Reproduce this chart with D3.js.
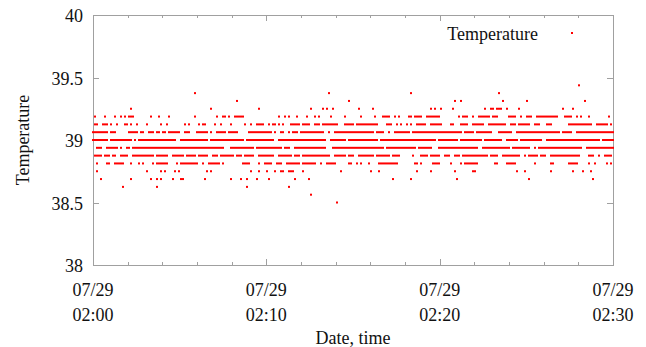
<!DOCTYPE html>
<html>
<head>
<meta charset="utf-8">
<script src="https://cdn.jsdelivr.net/npm/d3@7"></script>
<style>
  body { margin: 0; background: #fff; }
  text { font-family: "Liberation Serif", "Times New Roman", serif; fill: #111; }
</style>
</head>
<body>
<div id="chart"></div>
<script>
// temperature levels seen in the picture (sensor resolution 1/16 degree)
const levels = [39.4375, 39.375, 39.3125, 39.25, 39.1875, 39.125, 39.0625, 39.0,
  38.9375, 38.875, 38.8125, 38.75, 38.6875, 38.625, 38.5625, 38.5];

// one mask per level; each char is a ~7 s slot, '#' = a reading
// eight blocks of 32 slots plus a short tail (spaces only for readability)
const rowMasks = [
  ["", "", "", "", "", "", "", "........ ........ ....#", ""],
  ["", "........ ........ ....#", "", "........ ........ .......#", "", "#", "........ ....#", "", ""],
  ["", "", "........ .#", "", ".#", "........ ........ ......#. .#", "........ ......#. ........ ..#", "........ ........ .......#", ""],
  ["........ ........ ....#", "........ ........ ........ ....#", "........ ........ ....#",
   "........ ......#. ....#.#. .#", "......#. .....#", "........ ..#.#..# .....#",
   ".....#.. ##.###.. #.....#", "........ ....#... .#", ""],
  ["..#....# ....#..# .#.###.. ......#.", "..#....# ........ ....#... .......#", "..##.#.. #####... ........ ......#.",
   ".#.#...# ....#... #.#..... #......#", ".......# ......#. ..####.. #.#....#", "#.####.. #######. ........ #.###..#",
   "..###### .###.... .####..# ..###..#", "######## ##...### #..#.#.. .#", "...#"],
  ["..##..## #.#..#.. .##.#..# ....#...", "...#..#. .......# .#....#. ##....#.", ".#....#. .....#.. #..####. .#.##.#.",
   "#...#### #.####.. ###.#### ####...#", "####.### ######## ....###. .#.#..#.", "#..##### ..###### ....##.. .####..#",
   "#####..# ######## ..###.## ####..##", "#...###. .......# ######## ###..###", "###.#"],
  [".####### #.###... ...##### .##..###", ".##.##.# #####..# ##...### ###.#..#", "####.### ##.....# ######## ###.#..#",
   "#..#.### .####### #####..# ..######", "######## ######.# ###..#.. ########", ".####### ######## ######## ##.#####",
   ".####### #...#### ###..### ########", "######## ###.#### #..##### ########", "######"],
  [".####### #.###### #####.#. ########", "######## ###..### ######## ###.####", "######## #####.## ######## ####..##",
   "######## ######## ######.. ########", ".####### ######## .####### ########", "######## #####.## ######## .#######",
   "####.### ######.. ######.# ########", "##..#### ######## ######## #######.", "######"],
  ["...###.. ######.# ..##.### ########", "######## ######## ######## ########", "###...## ######## ##.##### ########",
   ".###..## ######## ######.. .#######", "######## ######## ###.#### ########", "###.#### ###...## ######## ########",
   "##..#### ######## ##.##### ####..#.", "######## ######## ######.. ########", "######"],
  ["..####.# ##.##..# ###..### ########", ".######. .######. #####.## ###..###", ".####### .###.### ##..#### ####..##",
   "#####.## #.###### ######## ..######", ".###..## ######.# ######.# ###.....", ".#...### #.#####. .###..## #.######",
   "#######. ####..## #######. .#.#####", ".###..## ######## #####... .###..#.", ".####"],
  ["...#.... ##..#### #...#... #.#....#", ".######. ...#.### ######.. #..#####", "#.#..... ....#### ....#..# ###..###",
   "..###### #.###### #..#..## ###.....", ".##..#.# ...#.... ######## ##......", "..##.#.. ...####. ....#... .#.#####",
   "##...... ..##.... #####... ......#.", "......## .......# ####.... .#..#...", "..#.#"],
  ["...#.... ........ ........ ....#", "...#.#.. ..#.#... ........ ..#.#", "........ ........ #...#... #...#..#",
   "#..###.. ..#..... ........ .....#", "........ ....#... #", "...#.... ..#..... ......#. .......#",
   "#....... ........ .....#.. .#", "......#. ........ .#....#. ..#", ""],
  [".....#.. ........ ....#... ......#", ".#.#.... .#...##. ........ .#", "......#. ...#..#. ...#.... .#",
   "......#. .....#", "........ ........ .......#", "#....... ........ .......#",
   "........ ........ ........ ...#", "........ ........ ........ ...#", ""],
  ["........ ........ #", ".#", "........ ......#", "...#", "", "", "", "", ""],
  ["", "", "", "........ ......#", "", "", "", "", ""],
  ["", "", "", "........ ........ ........ ...#", "", "", "", "", ""]
];

const seriesName = "Temperature";
const startTime = new Date(2016, 6, 29, 2, 0, 0);
const endTime = new Date(2016, 6, 29, 2, 30, 0);
const slotSeconds = 1800 / 260;
const yTicks = [38, 38.5, 39, 39.5, 40];
const yDomain = [38, 40];

const width = 646, height = 347;
const margin = { top: 15, right: 33, bottom: 82, left: 93 };

const readings = [];
levels.forEach((v, i) => {
  rowMasks[i].forEach((seg, s) => {
    seg.replace(/ /g, "").split("").forEach((ch, c) => {
      if (ch === "#") {
        const slot = s * 32 + c;
        readings.push({ time: new Date(+startTime + (slot - 1) * slotSeconds * 1000), value: v });
      }
    });
  });
});

const svg = d3.select("#chart").append("svg")
  .attr("width", width)
  .attr("height", height);

const x = d3.scaleTime()
  .domain([startTime, endTime])
  .range([margin.left, width - margin.right]);

const y = d3.scaleLinear()
  .domain(yDomain)
  .range([height - margin.bottom, margin.top]);

const frameColor = "#a0a0a0";
const plotL = margin.left, plotR = width - margin.right;
const plotT = margin.top, plotB = height - margin.bottom;

// ticks (inward, mirrored like gnuplot)
const majorX = x.ticks(d3.timeMinute.every(10));
const minorX = x.ticks(d3.timeMinute.every(2)).filter(d => d.getMinutes() % 10 !== 0);

const tickG = svg.append("g").attr("stroke", frameColor).attr("stroke-width", 1);
majorX.forEach(d => {
  const px = Math.round(x(d)) + 0.5;
  tickG.append("line").attr("x1", px).attr("x2", px).attr("y1", plotB).attr("y2", plotB - 6);
  tickG.append("line").attr("x1", px).attr("x2", px).attr("y1", plotT).attr("y2", plotT + 6);
});
minorX.forEach(d => {
  const px = Math.round(x(d)) + 0.5;
  tickG.append("line").attr("x1", px).attr("x2", px).attr("y1", plotB).attr("y2", plotB - 3);
  tickG.append("line").attr("x1", px).attr("x2", px).attr("y1", plotT).attr("y2", plotT + 3);
});
yTicks.forEach(v => {
  const py = Math.round(y(v)) + 0.5;
  tickG.append("line").attr("x1", plotL).attr("x2", plotL + 6).attr("y1", py).attr("y2", py);
  tickG.append("line").attr("x1", plotR).attr("x2", plotR - 6).attr("y1", py).attr("y2", py);
});

// frame
svg.append("rect")
  .attr("x", plotL + 0.5).attr("y", plotT + 0.5)
  .attr("width", plotR - plotL).attr("height", plotB - plotT)
  .attr("fill", "none").attr("stroke", frameColor).attr("stroke-width", 1);

// y tick labels
svg.append("g").selectAll("text").data(yTicks).join("text")
  .attr("x", plotL - 10)
  .attr("y", d => y(d) + 7)
  .attr("text-anchor", "end")
  .attr("font-size", 18)
  .text(d => String(d));

// x tick labels, two lines
const fmtDate = d3.timeFormat("%m/%d");
const fmtTime = d3.timeFormat("%H:%M");
const xl = svg.append("g").selectAll("text").data(majorX).join("text")
  .attr("text-anchor", "middle")
  .attr("font-size", 18);
xl.append("tspan").attr("x", d => x(d)).attr("y", 296).text(d => fmtDate(d));
xl.append("tspan").attr("x", d => x(d)).attr("y", 321).text(d => fmtTime(d));

// axis titles
svg.append("text")
  .attr("transform", `translate(29, ${(plotT + plotB) / 2}) rotate(-90)`)
  .attr("text-anchor", "middle")
  .attr("font-size", 18)
  .text("Temperature");

svg.append("text")
  .attr("x", (plotL + plotR) / 2)
  .attr("y", 344)
  .attr("text-anchor", "middle")
  .attr("font-size", 18)
  .text("Date, time");

// points
svg.append("g").selectAll("rect").data(readings).join("rect")
  .attr("x", d => x(d.time) - 1)
  .attr("y", d => y(d.value) - 1)
  .attr("width", 2)
  .attr("height", 2)
  .attr("fill", "#ff0000");

// key
svg.append("text")
  .attr("x", 538)
  .attr("y", 40)
  .attr("text-anchor", "end")
  .attr("font-size", 18)
  .text(seriesName);
svg.append("rect")
  .attr("x", 571).attr("y", 32)
  .attr("width", 2).attr("height", 2)
  .attr("fill", "#ff0000");
</script>
</body>
</html>
